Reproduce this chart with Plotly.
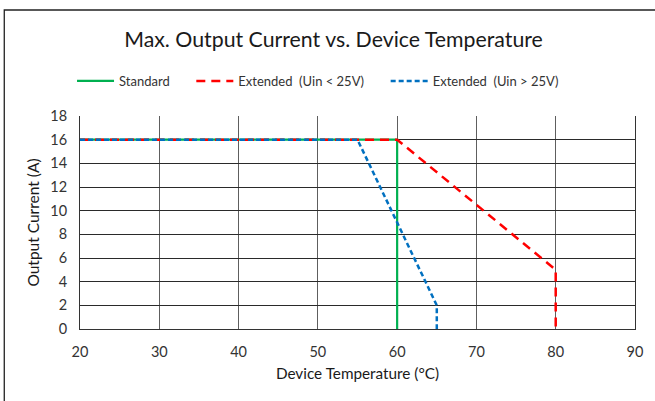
import plotly.graph_objects as go

std_x = [20, 60, 60]
std_y = [16, 16, 0]
ext_lo_x = [20, 60, 80, 80]
ext_lo_y = [16, 16, 5, 0]
ext_hi_x = [20, 55, 65, 65]
ext_hi_y = [16, 16, 2, 0]

NB = "\u00a0"
names = ["Standard" + NB * 5, "Extended  (Uin < 25V)" + NB * 5, "Extended  (Uin > 25V)"]
x_ticks = [20, 30, 40, 50, 60, 70, 80, 90]
y_ticks = [0, 2, 4, 6, 8, 10, 12, 14, 16, 18]

FONT = "Lato"

fig = go.Figure()
fig.add_trace(go.Scatter(x=std_x, y=std_y, mode="lines", name=names[0],
                         line=dict(color="#00B050", width=2.2)))
fig.add_trace(go.Scatter(x=ext_lo_x, y=ext_lo_y, mode="lines", name=names[1],
                         line=dict(color="#FF0000", width=2.5, dash="9px,6px")))
fig.add_trace(go.Scatter(x=ext_hi_x, y=ext_hi_y, mode="lines", name=names[2],
                         line=dict(color="#0070C0", width=2.5, dash="5px,3px")))

W, H = 655, 401
L, R, T, B = 80, 18, 116, 72
pw, ph = W - L - R, H - T - B

def px_x(p):
    return (p - L) / pw

def px_y(p):
    return (H - B - p) / ph

fig.add_shape(type="rect", xref="paper", yref="paper",
              x0=px_x(4), x1=px_x(700), y0=px_y(450), y1=px_y(10),
              line=dict(color="#222222", width=1.3), fillcolor="rgba(0,0,0,0)",
              layer="below")

fig.update_layout(
    width=W, height=H,
    margin=dict(l=L, r=R, t=T, b=B),
    paper_bgcolor="white", plot_bgcolor="white",
    font=dict(family=FONT, color="#262626", size=13),
    title=dict(text="Max. Output Current vs. Device Temperature",
               x=(333.5) / W, xanchor="center",
               y=1 - 40 / H, yanchor="middle",
               font=dict(family=FONT, size=21.3, color="#1a1a1a")),
    showlegend=True,
    legend=dict(orientation="h", x=px_x(72), y=px_y(81), xanchor="left", yanchor="middle",
                font=dict(family=FONT, size=13, color="#333333"),
                itemwidth=37, traceorder="normal", bgcolor="rgba(0,0,0,0)"),
    xaxis=dict(range=[20, 90], tickvals=x_ticks, showgrid=True, gridcolor="#5e5e5e",
               gridwidth=1, showline=True, linecolor="#333333", linewidth=1,
               zeroline=False, ticks="", ticklabelstandoff=10,
               tickfont=dict(size=14.5, color="#333333"),
               title=dict(text="Device Temperature (°C)", font=dict(size=15.3, color="#1a1a1a"),
                          standoff=8)),
    yaxis=dict(range=[0, 18], tickvals=y_ticks, showgrid=True, gridcolor="#2a2a2a",
               gridwidth=1, showline=True, linecolor="#333333", linewidth=1, mirror=True,
               zeroline=False, ticks="", ticklabelstandoff=9,
               tickfont=dict(size=14.5, color="#333333"),
               title=dict(text="Output Current (A)", font=dict(size=15.5, color="#1a1a1a"),
                          standoff=6)),
)

fig.write_html("out.html", config={"displayModeBar": False},
               post_script="document.body.style.margin='0';document.body.style.padding='0';")
